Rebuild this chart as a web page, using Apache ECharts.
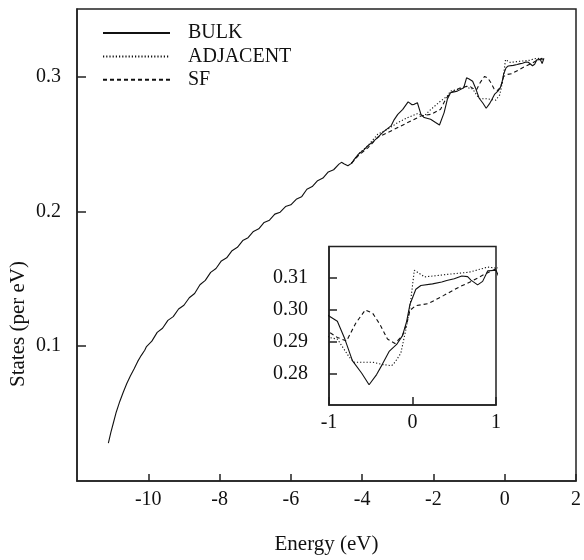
<!DOCTYPE html>
<html>
<head>
<meta charset="utf-8">
<script src="https://cdn.jsdelivr.net/npm/echarts@6/dist/echarts.min.js"></script>
<style>html,body{margin:0;padding:0;background:#fff;}#c{width:584px;height:560px;}</style>
</head>
<body>
<div id="c"></div>
<script>
// ---- data ----
var seriesNames = ['BULK', 'ADJACENT', 'SF'];
var xTicksMain = [-10, -8, -6, -4, -2, 0, 2];
var yTicksMain = [0.1, 0.2, 0.3];
var xTicksInset = [-1, 0, 1];
var yTicksInset = [0.28, 0.29, 0.30, 0.31];

var bulkE = [-11.12, -11.05, -10.98, -10.9, -10.8, -10.7, -10.6, -10.5, -10.4, -10.3, -10.2, -10.1,
  -10.05, -9.9, -9.75, -9.6, -9.45, -9.3, -9.15, -9.0, -8.85, -8.7, -8.55, -8.4, -8.25, -8.1, -7.95,
  -7.8, -7.65, -7.5, -7.35, -7.2, -7.05, -6.9, -6.75, -6.6, -6.45, -6.3, -6.15, -6.0, -5.85, -5.7,
  -5.55, -5.4, -5.25, -5.1, -4.95, -4.8, -4.65, -4.58, -4.5, -4.4, -4.3, -4.2, -4.1, -3.95, -3.84,
  -3.7, -3.56, -3.45, -3.37, -3.19, -3.1, -3.0, -2.86, -2.71, -2.6, -2.54, -2.45, -2.35, -2.26,
  -2.08, -1.94, -1.83, -1.7, -1.61, -1.52, -1.33, -1.15, -1.07, -1.0, -0.9, -0.81, -0.72, -0.61,
  -0.52, -0.43, -0.36, -0.28, -0.19, -0.12, -0.07, -0.03, 0.04, 0.10, 0.24, 0.35, 0.41, 0.5, 0.59,
  0.66, 0.70, 0.78, 0.84, 0.90, 1.0, 1.05, 1.1];
var bulkY = [0.028, 0.036, 0.043, 0.051, 0.059, 0.066, 0.0725, 0.078, 0.083, 0.0885, 0.093, 0.097,
  0.0997, 0.1037, 0.1102, 0.1133, 0.1191, 0.1219, 0.1275, 0.1303, 0.1359, 0.1390, 0.1455, 0.1488,
  0.1547, 0.1576, 0.1632, 0.1655, 0.1708, 0.1733, 0.1783, 0.1804, 0.1851, 0.1870, 0.1917, 0.1934,
  0.1979, 0.1993, 0.2035, 0.2048, 0.2089, 0.2107, 0.2163, 0.2183, 0.2227, 0.2246, 0.2292, 0.2308,
  0.2350, 0.2363, 0.2350, 0.2338, 0.2355, 0.2392, 0.2425, 0.2455, 0.2486, 0.2515, 0.2548, 0.2578,
  0.2596, 0.2633, 0.2680, 0.2719, 0.2756, 0.2811, 0.2790, 0.2793, 0.2805, 0.2719, 0.2695, 0.2682,
  0.2658, 0.2640, 0.2732, 0.2830, 0.2879, 0.2891, 0.2916, 0.2990, 0.2981, 0.2964, 0.2908, 0.2840,
  0.2801, 0.2764, 0.2796, 0.2829, 0.2869, 0.2891, 0.2919, 0.2964, 0.3018, 0.3065, 0.3077, 0.3082,
  0.3088, 0.3093, 0.3098, 0.3107, 0.3105, 0.3094, 0.3079, 0.3090, 0.3123, 0.3125, 0.3095, 0.3135];

var adjE = [-4.3, -4.1, -3.84, -3.56, -3.28, -3.0, -2.72, -2.45, -2.26, -2.07, -1.8, -1.61, -1.52,
  -1.24, -1.05, -1.0, -0.9, -0.76, -0.7, -0.48, -0.34, -0.25, -0.21, -0.14, -0.076, -0.031, 0.022,
  0.147, 0.413, 0.68, 0.9, 1.0, 1.1];
var adjY = [0.2355, 0.2425, 0.2486, 0.2572, 0.2609, 0.2658, 0.2695, 0.2724, 0.2707, 0.2756, 0.2817,
  0.2854, 0.2891, 0.2908, 0.2928, 0.2913, 0.2908, 0.2852, 0.2835, 0.2835, 0.2827, 0.2824, 0.2835,
  0.2863, 0.2942, 0.3009, 0.3125, 0.3104, 0.3112, 0.3119, 0.3135, 0.3132, 0.3135];

var sfE = [-4.3, -4.1, -3.84, -3.56, -3.28, -3.0, -2.63, -2.35, -2.07, -1.8, -1.66, -1.52, -1.24,
  -1.0, -0.9, -0.79, -0.68, -0.565, -0.476, -0.387, -0.3, -0.21, -0.12, -0.067, -0.031, 0.036, 0.19,
  0.37, 0.55, 0.72, 0.86, 1.0, 1.1];
var sfY = [0.2355, 0.2415, 0.2470, 0.2549, 0.2584, 0.2621, 0.2670, 0.2707, 0.2719, 0.2756, 0.2830,
  0.2879, 0.2916, 0.2930, 0.2913, 0.2902, 0.2958, 0.3000, 0.2989, 0.2953, 0.2908, 0.2894, 0.2919,
  0.2958, 0.2998, 0.3013, 0.3020, 0.3045, 0.3071, 0.3092, 0.3112, 0.3130, 0.3128];

function pairs(xs, ys) { return xs.map(function (x, i) { return [x, ys[i]]; }); }

var FONT = '"Liberation Serif", "Times New Roman", serif';
var INK = '#111';
var lineTypes = { BULK: 'solid', ADJACENT: [1.2, 2], SF: [4, 3] };
var dataSets = { BULK: pairs(bulkE, bulkY), ADJACENT: pairs(adjE, adjY), SF: pairs(sfE, sfY) };

function mkSeries(name, idx) {
  return {
    name: name, type: 'line', xAxisIndex: idx, yAxisIndex: idx,
    data: dataSets[name], symbol: 'none', smooth: false, clip: true, animation: false,
    lineStyle: { color: INK, width: 1.1, type: lineTypes[name] },
    itemStyle: { color: INK }
  };
}

var series = [];
seriesNames.forEach(function (n) { series.push(mkSeries(n, 0)); });
seriesNames.forEach(function (n) { series.push(mkSeries(n, 1)); });

var axisLine = { show: true, onZero: false, lineStyle: { color: '#222', width: 1.5 } };
var labelStyle = { color: INK, fontFamily: FONT, fontSize: 20 };

var option = {
  backgroundColor: '#fff',
  animation: false,
  grid: [
    { left: 77, top: 9, width: 502.5, height: 475, show: true, borderColor: '#222', borderWidth: 1.5, backgroundColor: 'transparent' },
    { left: 329, top: 246.5, width: 167, height: 158.5, show: true, borderColor: '#222', borderWidth: 1.5, backgroundColor: '#fff' }
  ],
  legend: {
    data: seriesNames, orient: 'vertical', left: 102, top: 23, padding: 0,
    itemWidth: 67, itemHeight: 14, itemGap: 3.4,
    itemStyle: { opacity: 0 },
    textStyle: { color: INK, fontFamily: FONT, fontSize: 20, padding: [0, 0, 0, 13] },
    selectedMode: false
  },
  xAxis: [
    {
      gridIndex: 0, type: 'value', min: -12, max: 2, interval: 2,
      axisLine: axisLine, splitLine: { show: false },
      axisTick: { inside: true, length: 7, lineStyle: { color: '#222', width: 1.5 } },
      axisLabel: Object.assign({ margin: 9, showMinLabel: false, showMaxLabel: true,
        formatter: function (v) { return xTicksMain.indexOf(v) >= 0 ? String(v) : ''; } }, labelStyle),
      name: 'Energy (eV)', nameLocation: 'middle', nameGap: 53,
      nameTextStyle: { color: INK, fontFamily: FONT, fontSize: 21 }
    },
    {
      gridIndex: 1, type: 'value', min: -1, max: 1, interval: 1,
      axisLine: axisLine, splitLine: { show: false },
      axisTick: { inside: true, length: 8, lineStyle: { color: '#222', width: 1.5 } },
      axisLabel: Object.assign({ margin: 8, showMinLabel: true, showMaxLabel: true,
        formatter: function (v) { return xTicksInset.indexOf(v) >= 0 ? String(v) : ''; } }, labelStyle)
    }
  ],
  yAxis: [
    {
      gridIndex: 0, type: 'value', min: 0, max: 0.35, interval: 0.1,
      axisLine: axisLine, splitLine: { show: false },
      axisTick: { inside: true, length: 9, lineStyle: { color: '#222', width: 1.5 } },
      axisLabel: Object.assign({ margin: 16, showMinLabel: false, showMaxLabel: false,
        formatter: function (v) {
          var t = Math.round(v * 10) / 10;
          return yTicksMain.indexOf(t) >= 0 ? t.toFixed(1) : '';
        } }, labelStyle)
    },
    {
      gridIndex: 1, type: 'value', min: 0.27, max: 0.32, interval: 0.01,
      axisLine: axisLine, splitLine: { show: false },
      axisTick: { inside: true, length: 8, lineStyle: { color: '#222', width: 1.5 } },
      axisLabel: Object.assign({ margin: 21, showMinLabel: false, showMaxLabel: false,
        formatter: function (v) {
          var t = Math.round(v * 100) / 100;
          return yTicksInset.indexOf(t) >= 0 ? t.toFixed(2) : '';
        } }, labelStyle)
    }
  ],
  graphic: [
    {
      type: 'text', x: 18.5, y: 324, rotation: Math.PI / 2,
      style: { text: 'States (per eV)', font: '21px ' + FONT, fill: INK, textAlign: 'center', textVerticalAlign: 'middle' }
    }
  ],
  series: series
};

var chart = echarts.init(document.getElementById('c'), null, { renderer: 'canvas' });
chart.setOption(option);
</script>
</body>
</html>
